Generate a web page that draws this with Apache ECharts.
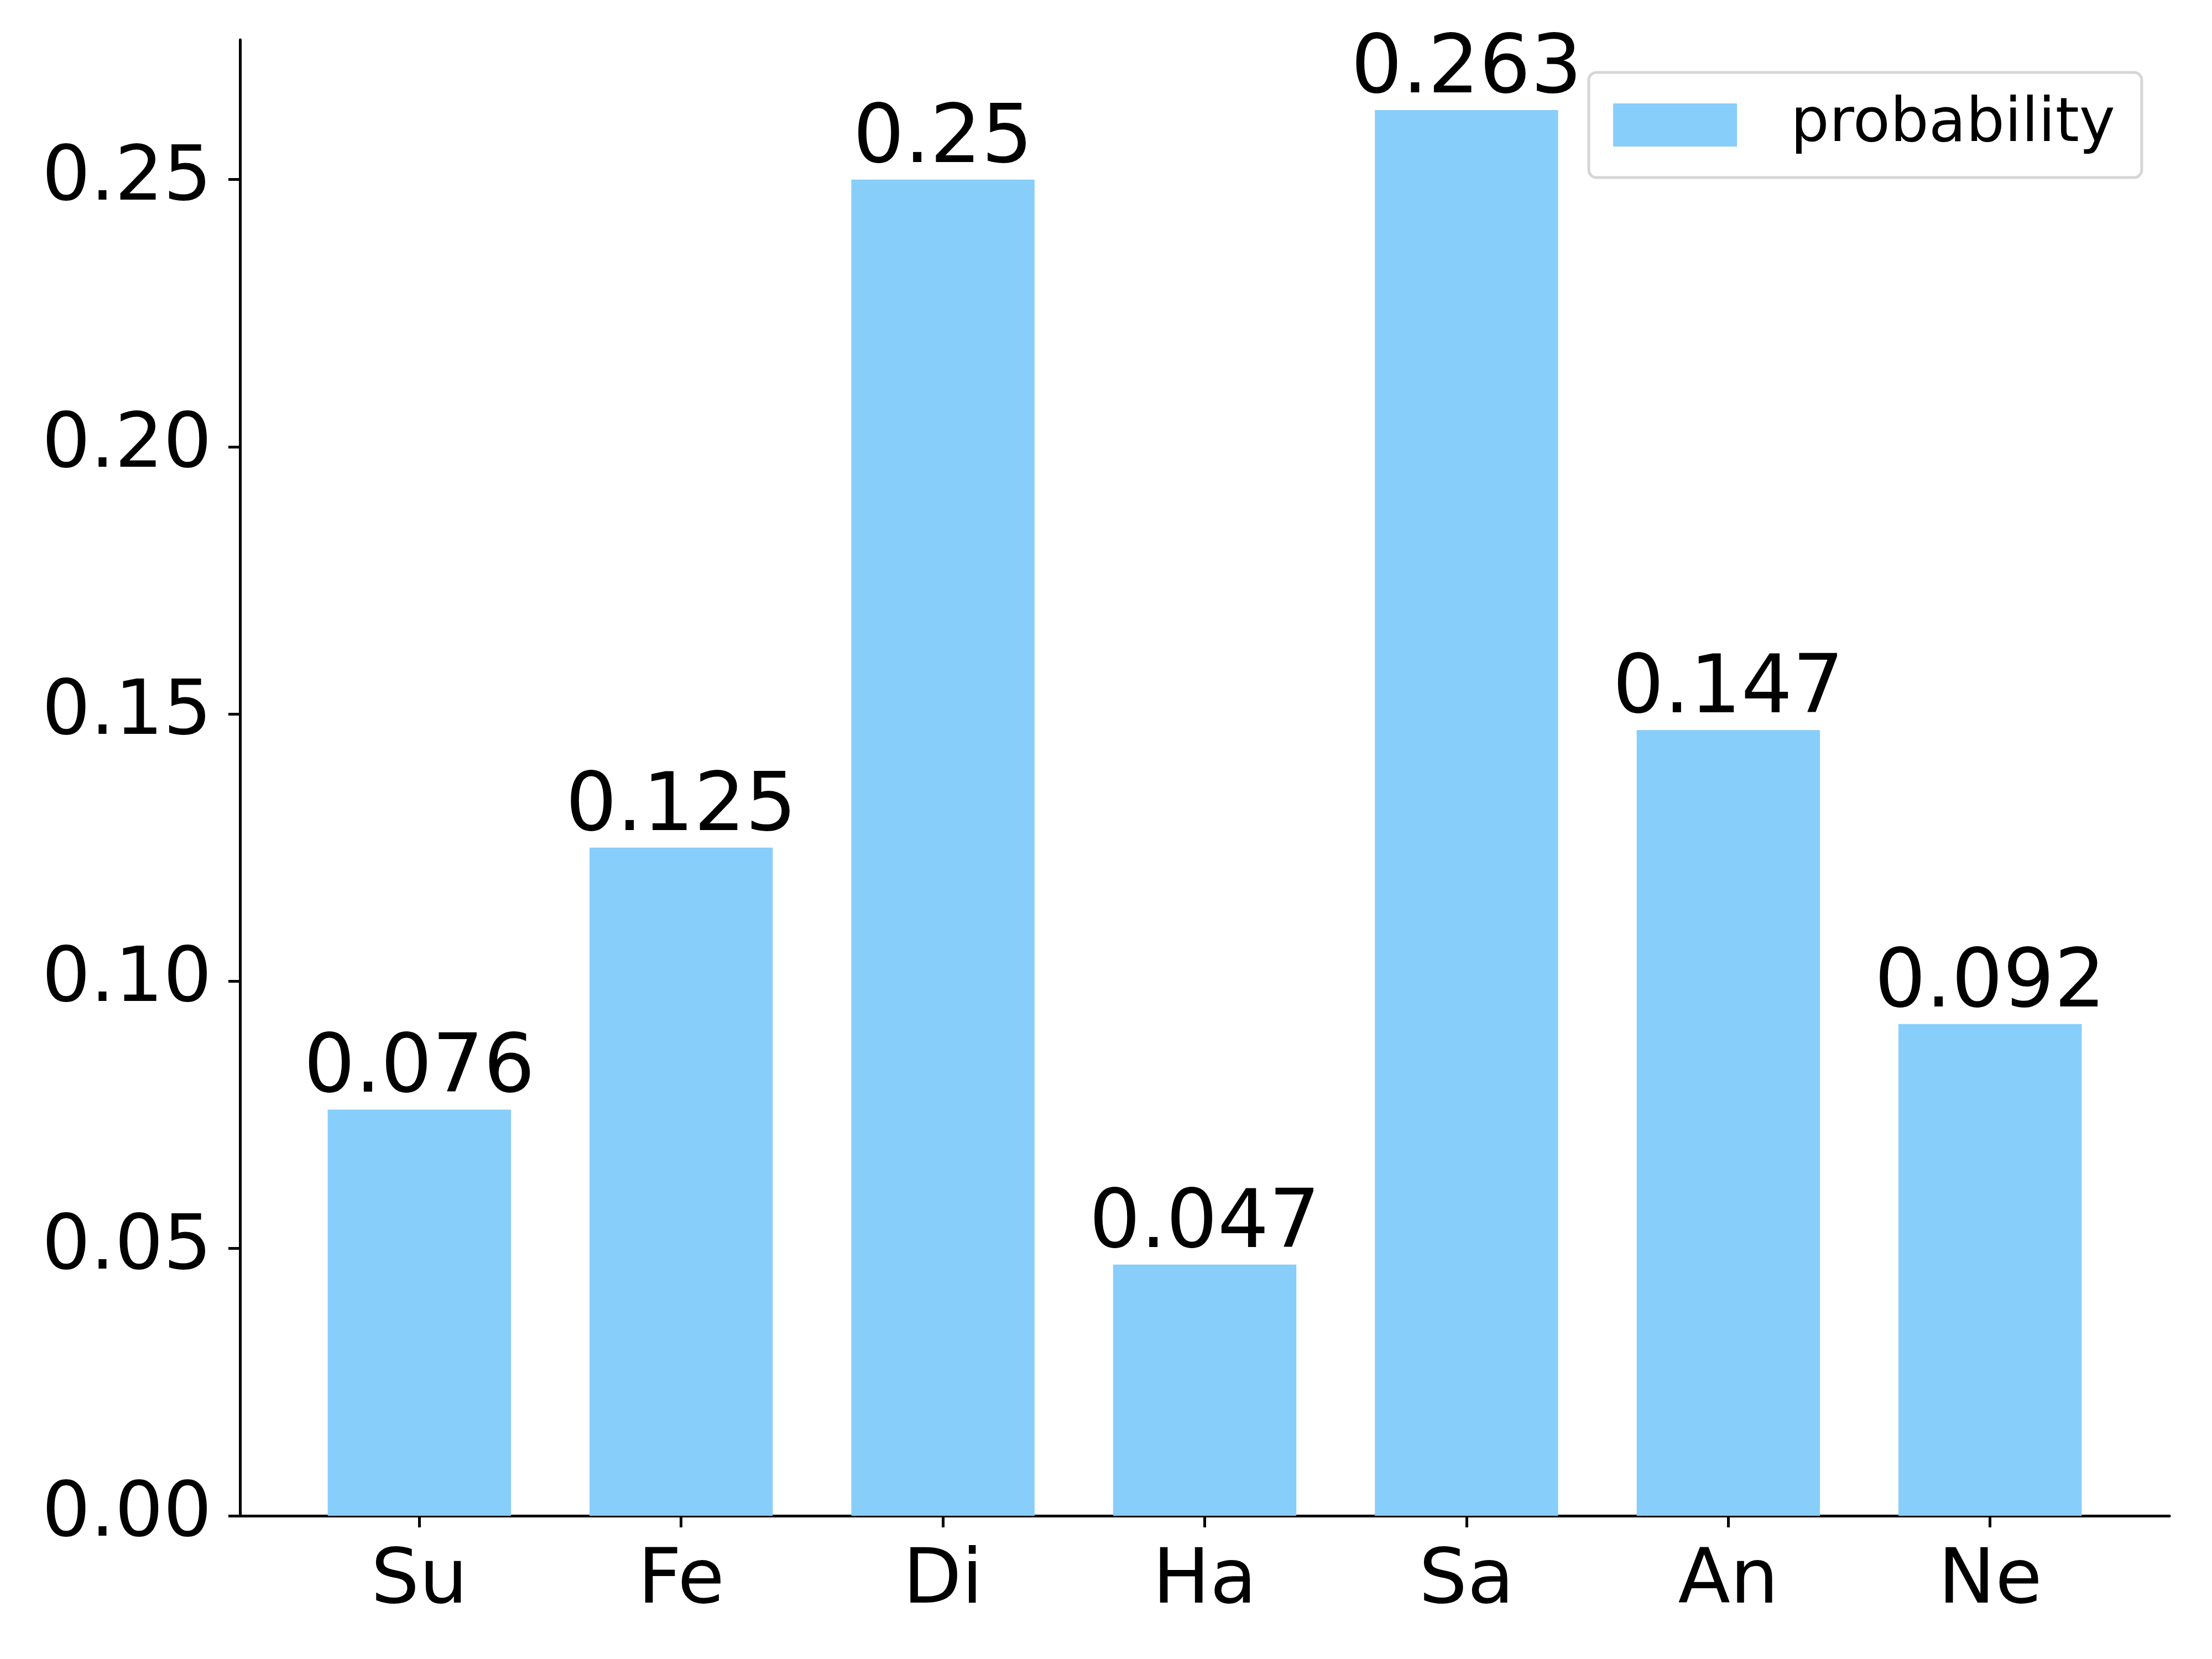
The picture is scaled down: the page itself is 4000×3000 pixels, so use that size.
<!DOCTYPE html>
<html>
<head>
<meta charset="utf-8">
<script src="https://cdn.jsdelivr.net/npm/echarts@6/dist/echarts.min.js"></script>
<style>html,body{margin:0;padding:0;background:#fff;}#c{width:4000px;height:3000px;}</style>
</head>
<body>
<div id="c"></div>
<script>
const categories = ['Su', 'Fe', 'Di', 'Ha', 'Sa', 'An', 'Ne'];
const probability = [0.076, 0.125, 0.25, 0.047, 0.263, 0.147, 0.092];
const yTicks = [0, 0.05, 0.10, 0.15, 0.20, 0.25];
const seriesName = 'probability';

const W = 4000, H = 3000;
const gridLeft = 434, gridRight = 77, gridTop = 72, gridBottom = 259;
const barFrac = 0.7;
const xMinAdj = -(barFrac / 2) - 0.05 * (categories.length - 1 + barFrac);
const xMaxAdj = (categories.length - 1) + (barFrac / 2) + 0.05 * (categories.length - 1 + barFrac);
const yMax = Math.max(...probability) * 1.05;
const plotW = W - gridLeft - gridRight;
const barPx = barFrac * plotW / (xMaxAdj - xMinAdj);

const font = 'DejaVu Sans';
const chart = echarts.init(document.getElementById('c'), null, {renderer: 'canvas'});
chart.setOption({
  backgroundColor: '#ffffff',
  animation: false,
  textStyle: {fontFamily: font},
  legend: {
    data: [seriesName],
    left: 2873, top: 131,
    orient: 'vertical',
    icon: 'rect',
    itemWidth: 224, itemHeight: 78,
    padding: [40, 48, 40, 44],
    borderColor: '#d6d6d6', borderWidth: 5, borderRadius: 14,
    backgroundColor: '#ffffff',
    textStyle: {fontFamily: font, fontSize: 110, color: '#000', padding: [0, 0, 0, 92], lineHeight: 110}
  },
  grid: {left: gridLeft, right: gridRight, top: gridTop, bottom: gridBottom, containLabel: false},
  xAxis: {
    type: 'value',
    min: xMinAdj, max: xMaxAdj,
    splitLine: {show: false},
    axisLine: {show: true, onZero: false, lineStyle: {color: '#000', width: 5}},
    axisTick: {show: true, customValues: categories.map((c, i) => i), length: 21, lineStyle: {color: '#000', width: 5}},
    axisLabel: {
      customValues: categories.map((c, i) => i),
      formatter: v => categories[Math.round(v)] || '',
      fontFamily: font, fontSize: 138, color: '#000', margin: 52
    }
  },
  yAxis: {
    type: 'value',
    min: 0, max: yMax,
    splitLine: {show: false},
    axisLine: {show: true, onZero: false, lineStyle: {color: '#000', width: 5}},
    axisTick: {show: true, customValues: yTicks, length: 21, lineStyle: {color: '#000', width: 5}},
    axisLabel: {
      customValues: yTicks,
      formatter: v => v.toFixed(2),
      fontFamily: font, fontSize: 138, color: '#000', margin: 51
    }
  },
  series: [{
    name: seriesName,
    type: 'bar',
    barWidth: barPx,
    data: probability.map((v, i) => [i, v]),
    itemStyle: {color: '#87CEFA'},
    label: {
      show: true, position: 'top', distance: -3,
      formatter: p => String(p.value[1]),
      fontFamily: font, fontSize: 146, color: '#000'
    }
  }]
});
</script>
</body>
</html>
